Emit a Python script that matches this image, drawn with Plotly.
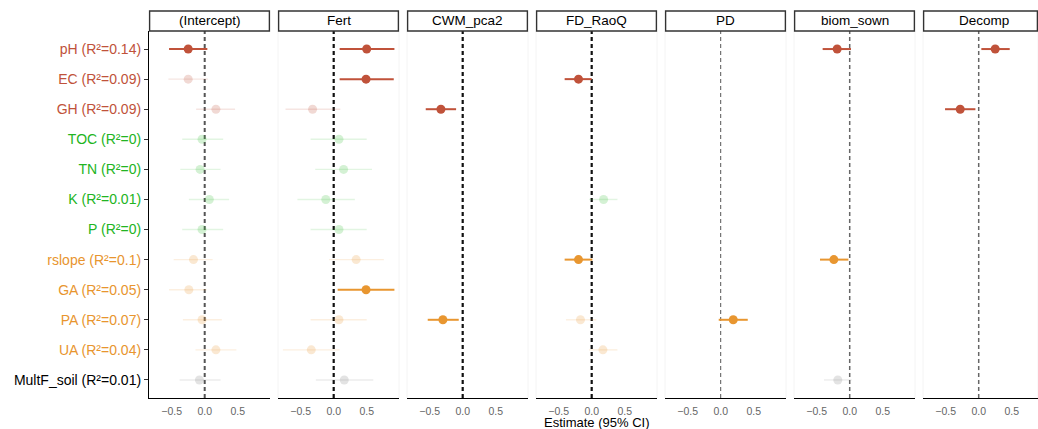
import plotly.graph_objects as go

# ---------------- data ----------------
variables = ["pH", "EC", "GH", "TOC", "TN", "K", "P", "rslope", "GA", "PA", "UA", "MultF_soil"]
r2_values = ["0.14", "0.09", "0.09", "0", "0", "0.01", "0", "0.1", "0.05", "0.07", "0.04", "0.01"]
var_groups = ["chem", "chem", "chem", "nutr", "nutr", "nutr", "nutr", "micro", "micro", "micro", "micro", "multi"]

panels = ["(Intercept)", "Fert", "CWM_pca2", "FD_RaoQ", "PD", "biom_sown", "Decomp"]

est_intercept = [-0.25, -0.25, 0.17, -0.04, -0.07, 0.07, -0.04, -0.17, -0.24, -0.04, 0.17, -0.08]
lo_intercept = [-0.54, -0.55, -0.13, -0.34, -0.37, -0.24, -0.34, -0.47, -0.54, -0.33, -0.14, -0.38]
hi_intercept = [0.04, 0.05, 0.46, 0.28, 0.24, 0.37, 0.28, 0.12, 0.03, 0.26, 0.48, 0.24]
sig_intercept = [1, 0, 0, 0, 0, 0, 0, 0, 0, 0, 0, 0]

est_fert = [0.50, 0.49, -0.32, 0.08, 0.15, -0.12, 0.08, 0.34, 0.49, 0.08, -0.34, 0.16]
lo_fert = [0.09, 0.09, -0.73, -0.35, -0.28, -0.55, -0.35, -0.07, 0.06, -0.35, -0.77, -0.27]
hi_fert = [0.92, 0.91, 0.10, 0.50, 0.58, 0.32, 0.50, 0.76, 0.92, 0.50, 0.09, 0.60]
sig_fert = [1, 1, 0, 0, 0, 0, 0, 0, 1, 0, 0, 0]

N = None
est_cwm = [N, N, -0.33, N, N, N, N, N, N, -0.30, N, N]
lo_cwm = [N, N, -0.56, N, N, N, N, N, N, -0.53, N, N]
hi_cwm = [N, N, -0.10, N, N, N, N, N, N, -0.06, N, N]
sig_cwm = [0, 0, 1, 0, 0, 0, 0, 0, 0, 1, 0, 0]

est_fd = [N, -0.20, N, N, N, 0.18, N, -0.20, N, -0.17, 0.17, N]
lo_fd = [N, -0.41, N, N, N, -0.04, N, -0.41, N, -0.39, -0.04, N]
hi_fd = [N, 0.00, N, N, N, 0.39, N, 0.01, N, 0.07, 0.39, N]
sig_fd = [0, 1, 0, 0, 0, 0, 0, 1, 0, 0, 0, 0]

est_pd = [N, N, N, N, N, N, N, N, N, 0.19, N, N]
lo_pd = [N, N, N, N, N, N, N, N, N, -0.03, N, N]
hi_pd = [N, N, N, N, N, N, N, N, N, 0.41, N, N]
sig_pd = [0, 0, 0, 0, 0, 0, 0, 0, 0, 1, 0, 0]

est_biom = [-0.19, N, N, N, N, N, N, -0.24, N, N, N, -0.18]
lo_biom = [-0.41, N, N, N, N, N, N, -0.45, N, N, N, -0.39]
hi_biom = [0.02, N, N, N, N, N, N, -0.02, N, N, N, 0.03]
sig_biom = [1, 0, 0, 0, 0, 0, 0, 1, 0, 0, 0, 0]

est_decomp = [0.25, N, -0.28, N, N, N, N, N, N, N, N, N]
lo_decomp = [0.04, N, -0.51, N, N, N, N, N, N, N, N, N]
hi_decomp = [0.47, N, -0.05, N, N, N, N, N, N, N, N, N]
sig_decomp = [1, 0, 1, 0, 0, 0, 0, 0, 0, 0, 0, 0]

x_tickvals = [-0.5, 0.0, 0.5]
x_ticktext = ["\u22120.5", "0.0", "0.5"]

# ---------------- styling ----------------
W, H = 1038, 429
ML, MB = 149, 31
PW, PH = W - ML, H - MB
panel_px_start = [0, 129, 258, 387, 516, 645, 774]
panel_px_w = 121
strip_top_px, strip_bot_px = 11, 31

point_rgb = {"chem": (192, 82, 58), "nutr": (60, 190, 60), "micro": (232, 150, 48), "multi": (128, 128, 128)}
label_color = {"chem": "#C0523A", "nutr": "#22B422", "micro": "#E8952E", "multi": "#000000"}

zero_line = [("#555555", 2.0), ("#111111", 2.2), ("#111111", 2.2), ("#111111", 2.2),
             ("#555555", 1.0), ("#666666", 1.5), ("#666666", 1.5)]

panel_data = [
    (est_intercept, lo_intercept, hi_intercept, sig_intercept),
    (est_fert, lo_fert, hi_fert, sig_fert),
    (est_cwm, lo_cwm, hi_cwm, sig_cwm),
    (est_fd, lo_fd, hi_fd, sig_fd),
    (est_pd, lo_pd, hi_pd, sig_pd),
    (est_biom, lo_biom, hi_biom, sig_biom),
    (est_decomp, lo_decomp, hi_decomp, sig_decomp),
]

FONT = "Liberation Sans, Arial, sans-serif"
px_per_unit = 66.0
x_min = -0.844

fig = go.Figure()

y_top_dom = (PH - strip_bot_px) / PH

for k, (est, lo, hi, sig) in enumerate(panel_data):
    xa = "x" if k == 0 else f"x{k+1}"
    for i, v in enumerate(variables):
        if est[i] is None:
            continue
        g = var_groups[i]
        r, gg, b = point_rgb[g]
        if sig[i]:
            mcol = f"rgba({r},{gg},{b},1)"
            lcol = f"rgba({r},{gg},{b},1)"
            lw = 2.0
        else:
            mcol = f"rgba({r},{gg},{b},0.22)"
            lcol = f"rgba({r},{gg},{b},0.15)"
            lw = 1.4
        fig.add_trace(go.Scatter(
            x=[est[i]], y=[v], xaxis=xa, yaxis="y", mode="markers",
            marker=dict(size=9, color=mcol, line=dict(width=0)),
            error_x=dict(type="data", symmetric=False,
                         array=[hi[i] - est[i]], arrayminus=[est[i] - lo[i]],
                         width=0, thickness=lw, color=lcol),
            showlegend=False, hoverinfo="skip"))

    x0 = panel_px_start[k] / PW
    x1 = min((panel_px_start[k] + panel_px_w) / PW, 1.0)
    width_px = (x1 * PW) - panel_px_start[k]
    rng = [x_min, x_min + width_px / px_per_unit]
    key = "xaxis" if k == 0 else f"xaxis{k+1}"
    fig.layout[key] = dict(
        domain=[x0, x1], anchor="y", range=rng, showgrid=False, zeroline=False,
        showline=True, linecolor="black", linewidth=1.2, ticks="",
        tickvals=x_tickvals, ticktext=x_ticktext,
        tickfont=dict(family=FONT, size=10.5, color="#666666"), ticklabelstandoff=3)

    # zero reference line
    c, w = zero_line[k]
    fig.add_shape(type="line", xref=xa, yref="y domain", x0=0, x1=0, y0=0, y1=1,
                  line=dict(color=c, width=w, dash="4px,3px"), layer="below")
    # faint panel side edges
    if k > 0:
        for xe in (0, 1):
            fig.add_shape(type="line", xref=f"{xa} domain", yref="y domain", x0=xe, x1=xe, y0=0, y1=1,
                          line=dict(color="#F4F4F4", width=1), layer="below")
    # strip
    sy0 = (PH - strip_bot_px) / PH
    sy1 = (PH - strip_top_px) / PH
    fig.add_shape(type="rect", xref="paper", yref="paper",
                  x0=x0 + 0.6 / PW, x1=min(x1, 1.0) - 0.6 / PW, y0=sy0, y1=sy1,
                  line=dict(color="#333333", width=1.4), fillcolor="white")
    fig.add_annotation(x=(x0 + x1) / 2 if k < 6 else (x0 + (panel_px_start[k] + panel_px_w) / PW) / 2,
                       y=(sy0 + sy1) / 2, xref="paper", yref="paper",
                       text=panels[k], showarrow=False,
                       font=dict(family=FONT, size=13.5, color="black"),
                       xanchor="center", yanchor="middle")

tick_labels = [f"<span style='color:{label_color[g]}'>{v} (R²={r})</span>"
               for v, r, g in zip(variables, r2_values, var_groups)]

fig.update_layout(
    width=W, height=H,
    margin=dict(l=ML, r=0, t=0, b=MB, pad=0),
    plot_bgcolor="white", paper_bgcolor="white",
    yaxis=dict(domain=[0, y_top_dom], anchor="x", type="category",
               categoryorder="array", categoryarray=variables,
               range=[len(variables) - 0.4, -0.6],
               tickvals=variables, ticktext=tick_labels,
               showgrid=False, zeroline=False, showline=True, linecolor="black", linewidth=1.2,
               ticks="outside", ticklen=4, tickcolor="#333333", tickwidth=1,
               tickfont=dict(family=FONT, size=14)),
)

fig.add_annotation(x=(596 - ML) / PW, y=0, xref="paper", yref="paper", yshift=-24,
                   text="Estimate (95% CI)", showarrow=False,
                   font=dict(family=FONT, size=13, color="black"),
                   xanchor="center", yanchor="middle")

fig.write_html("out.html")
